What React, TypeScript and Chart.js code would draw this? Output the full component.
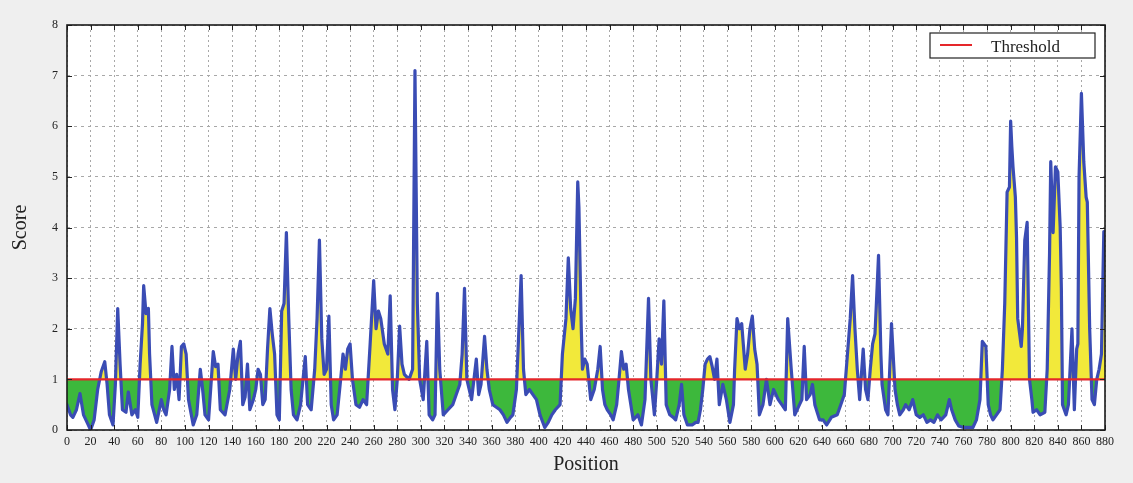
import React, { useEffect, useRef } from 'react';
import { Chart, registerables } from 'chart.js';

Chart.register(...registerables);

// Position along the sequence (x) and score (y)
const positions = [
  0, 3, 5, 8, 11, 14, 17, 20, 23, 26, 29, 32, 34, 36, 39, 41, 43, 45, 47, 50,
  52, 55, 58, 60, 62, 64, 65, 67, 69, 70, 72, 76, 80, 82, 84, 87, 89, 91, 93, 95,
  97, 99, 101, 103, 107, 110, 113, 115, 117, 120, 124, 126, 128, 130, 134, 138, 141, 143, 145, 147,
  149, 151, 153, 155, 158, 160, 162, 164, 166, 168, 170, 172, 174, 176, 178, 180, 182, 184, 186, 188,
  190, 192, 195, 198, 202, 204, 207, 210, 212, 214, 216, 218, 220, 222, 224, 226, 229, 232, 234, 236,
  238, 240, 242, 245, 248, 251, 254, 257, 260, 262, 264, 266, 269, 272, 274, 276, 278, 280, 282, 284,
  286, 290, 293, 295, 297, 299, 302, 305, 307, 310, 312, 314, 316, 319, 323, 327, 330, 333, 335, 337,
  339, 343, 347, 349, 351, 354, 356, 358, 361, 364, 367, 370, 373, 376, 378, 381, 385, 387, 389, 392,
  395, 398, 401, 405, 408, 411, 414, 418, 420, 423, 425, 427, 429, 431, 433, 434, 436, 437, 439, 441,
  444, 447, 450, 452, 454, 456, 458, 461, 463, 466, 468, 470, 472, 474, 476, 480, 484, 487, 490, 493,
  495, 498, 500, 502, 504, 506, 508, 511, 514, 516, 519, 521, 523, 526, 530, 533, 535, 537, 539, 541,
  543, 545, 547, 549, 551, 553, 556, 559, 562, 565, 566, 568, 570, 572, 575, 577, 579, 581, 583, 585,
  587, 590, 593, 596, 599, 603, 606, 609, 611, 614, 617, 621, 623, 625, 627, 630, 632, 634, 638, 641,
  644, 648, 653, 656, 659, 662, 664, 666, 668, 670, 672, 675, 677, 679, 681, 683, 685, 686, 688, 690,
  691, 694, 696, 699, 702, 704, 706, 709, 711, 714, 717, 720, 723, 726, 729, 732, 735, 738, 741, 745,
  748, 750, 753, 756, 760, 764, 768, 771, 774, 776, 779, 781, 783, 785, 788, 791, 793, 795, 797, 799,
  800, 801, 802, 804, 805, 806, 809, 810, 812, 814, 816, 818, 819, 822, 825, 829, 831, 833, 834, 836,
  838, 840, 842, 843, 844, 847, 849, 852, 854, 856, 857, 858, 860, 862, 864, 865, 867, 869, 871, 873,
  875, 877, 879, 880,
];

const scores = [
  0.5, 0.3, 0.25, 0.4, 0.72, 0.3, 0.15, 0.0, 0.2, 0.8, 1.15, 1.35, 0.9, 0.3, 0.1, 0.9, 2.4, 1.3, 0.4, 0.35,
  0.75, 0.3, 0.4, 0.25, 1.3, 2.1, 2.85, 2.3, 2.4, 1.5, 0.5, 0.15, 0.6, 0.4, 0.3, 0.8, 1.65, 0.8, 1.1, 0.6,
  1.65, 1.7, 1.5, 0.6, 0.1, 0.3, 1.2, 0.8, 0.3, 0.2, 1.55, 1.25, 1.3, 0.4, 0.3, 0.8, 1.6, 1.0, 1.5, 1.75,
  0.5, 0.65, 1.3, 0.4, 0.6, 0.8, 1.2, 1.1, 0.5, 0.6, 1.6, 2.4, 1.9, 1.5, 0.3, 0.2, 2.35, 2.5, 3.9, 2.2,
  0.8, 0.3, 0.2, 0.5, 1.45, 0.5, 0.4, 1.2, 2.2, 3.75, 1.8, 1.1, 1.2, 2.25, 0.5, 0.2, 0.3, 1.0, 1.5, 1.2,
  1.6, 1.7, 1.0, 0.5, 0.45, 0.6, 0.5, 1.7, 2.95, 2.0, 2.35, 2.2, 1.7, 1.5, 2.65, 0.8, 0.4, 1.0, 2.05, 1.3,
  1.1, 1.0, 1.2, 7.1, 2.5, 1.0, 0.6, 1.75, 0.3, 0.2, 0.3, 2.7, 1.2, 0.3, 0.4, 0.5, 0.7, 0.9, 1.5, 2.8,
  1.0, 0.6, 1.4, 0.7, 0.9, 1.85, 1.2, 0.8, 0.5, 0.45, 0.4, 0.3, 0.15, 0.25, 0.3, 0.8, 3.05, 1.2, 0.7, 0.8,
  0.7, 0.6, 0.3, 0.05, 0.15, 0.3, 0.4, 0.5, 1.5, 2.2, 3.4, 2.4, 2.0, 2.6, 4.9, 4.4, 2.0, 1.2, 1.4, 1.3,
  0.6, 0.8, 1.2, 1.65, 0.8, 0.5, 0.4, 0.3, 0.2, 0.5, 1.0, 1.55, 1.2, 1.3, 0.8, 0.2, 0.3, 0.1, 0.6, 2.6,
  1.0, 0.3, 1.0, 1.8, 1.3, 2.55, 0.5, 0.3, 0.25, 0.2, 0.5, 0.9, 0.3, 0.1, 0.1, 0.15, 0.15, 0.4, 0.8, 1.3,
  1.4, 1.45, 1.25, 1.0, 1.4, 0.5, 0.9, 0.6, 0.15, 0.5, 1.2, 2.2, 2.0, 2.1, 1.2, 1.5, 2.0, 2.25, 1.6, 1.3,
  0.3, 0.5, 1.0, 0.5, 0.8, 0.6, 0.5, 0.4, 2.2, 1.2, 0.3, 0.5, 0.6, 1.65, 0.6, 0.7, 0.9, 0.5, 0.2, 0.2,
  0.1, 0.25, 0.3, 0.5, 0.7, 1.6, 2.2, 3.05, 2.0, 1.2, 0.6, 1.6, 0.8, 0.6, 1.2, 1.7, 1.9, 2.4, 3.45, 1.5,
  0.9, 0.4, 0.3, 2.1, 0.8, 0.5, 0.3, 0.4, 0.5, 0.4, 0.6, 0.3, 0.25, 0.3, 0.15, 0.2, 0.15, 0.3, 0.2, 0.3,
  0.6, 0.4, 0.2, 0.08, 0.05, 0.05, 0.05, 0.2, 0.6, 1.75, 1.65, 0.5, 0.3, 0.2, 0.3, 0.4, 1.2, 2.5, 4.7, 4.8,
  6.1, 5.6, 5.2, 4.6, 3.8, 2.2, 1.65, 2.0, 3.75, 4.1, 1.0, 0.6, 0.35, 0.4, 0.3, 0.35, 1.2, 3.5, 5.3, 3.9,
  5.2, 5.1, 4.0, 2.8, 0.5, 0.3, 0.5, 2.0, 0.4, 1.6, 1.7, 5.0, 6.65, 5.3, 4.6, 4.5, 2.0, 0.6, 0.5, 1.0,
  1.2, 1.5, 3.92, 3.9,
];

const thresholdValue = 1;
const xRange = [0, 880];
const xStep = 20;
const yRange = [0, 8];
const yStep = 1;
const legendLabel = 'Threshold';

const FONT = "'Liberation Serif', 'DejaVu Serif', serif";

const framePlugin = {
  id: 'frame',
  beforeDraw(chart: any) {
    const { ctx, chartArea: a } = chart;
    ctx.save();
    ctx.fillStyle = '#ffffff';
    ctx.fillRect(a.left, a.top, a.right - a.left, a.bottom - a.top);
    ctx.restore();
  },
  afterDraw(chart: any) {
    const { ctx, chartArea: a, scales } = chart;
    ctx.save();
    ctx.strokeStyle = '#222';
    ctx.lineWidth = 1;
    const xs = scales.x;
    const ys = scales.y;
    ctx.beginPath();
    xs.ticks.forEach((t: any) => {
      const px = Math.round(xs.getPixelForValue(t.value)) + 0.5;
      ctx.moveTo(px, a.bottom);
      ctx.lineTo(px, a.bottom - 5);
      ctx.moveTo(px, a.top);
      ctx.lineTo(px, a.top + 5);
    });
    ys.ticks.forEach((t: any) => {
      const py = Math.round(ys.getPixelForValue(t.value)) + 0.5;
      ctx.moveTo(a.left, py);
      ctx.lineTo(a.left + 5, py);
      ctx.moveTo(a.right, py);
      ctx.lineTo(a.right - 5, py);
    });
    ctx.stroke();
    ctx.lineWidth = 1.6;
    ctx.strokeStyle = '#1a1a1a';
    ctx.strokeRect(a.left, a.top, a.right - a.left, a.bottom - a.top);

    // legend box
    const bx = 930, by = 33, bw = 165, bh = 25;
    ctx.fillStyle = '#ffffff';
    ctx.fillRect(bx, by, bw, bh);
    ctx.lineWidth = 1.2;
    ctx.strokeStyle = '#222';
    ctx.strokeRect(bx, by, bw, bh);
    ctx.strokeStyle = '#e5262a';
    ctx.lineWidth = 2;
    ctx.beginPath();
    ctx.moveTo(940, by + 12);
    ctx.lineTo(972, by + 12);
    ctx.stroke();
    ctx.fillStyle = '#222';
    ctx.font = `17px ${FONT}`;
    ctx.textBaseline = 'alphabetic';
    ctx.textAlign = 'left';
    ctx.fillText(legendLabel, 991, by + 19);
    ctx.restore();
  },
};

export default function App() {
  const ref = useRef<HTMLCanvasElement | null>(null);

  useEffect(() => {
    document.body.style.margin = '0';
    document.body.style.background = '#efefef';
    const canvas = ref.current;
    if (!canvas) return;
    const lineData = positions.map((x, i) => ({ x, y: scores[i] }));
    const thresholdData = [
      { x: xRange[0], y: thresholdValue },
      { x: xRange[1], y: thresholdValue },
    ];
    const chart = new Chart(canvas, {
      type: 'line',
      data: {
        datasets: [
          {
            label: legendLabel,
            data: thresholdData,
            borderColor: '#e5262a',
            borderWidth: 2.2,
            pointRadius: 0,
            fill: false,
            order: 0,
          },
          {
            label: 'Score',
            data: lineData,
            borderColor: '#3a4cb4',
            borderWidth: 3.2,
            borderJoinStyle: 'round',
            borderCapStyle: 'round',
            pointRadius: 0,
            tension: 0,
            fill: {
              target: { value: thresholdValue },
              above: '#f2e93a',
              below: '#3db83c',
            },
            order: 1,
          },
        ],
      },
      options: {
        animation: false,
        responsive: true,
        maintainAspectRatio: false,
        layout: { padding: { top: 25, right: 28, left: 0, bottom: 0 } },
        plugins: {
          legend: { display: false },
          tooltip: { enabled: false },
        },
        scales: {
          x: {
            type: 'linear',
            min: xRange[0],
            max: xRange[1],
            afterFit: (s: any) => {
              s.height = 53;
            },
            ticks: {
              stepSize: xStep,
              autoSkip: false,
              maxRotation: 0,
              padding: 5,
              color: '#222',
              font: { family: FONT, size: 12 },
            },
            grid: {
              color: '#a8a8a8',
              lineWidth: 1,
              drawTicks: false,
            },
            border: { display: false, dash: [2, 3] },
            title: {
              display: true,
              text: 'Position',
              color: '#222',
              font: { family: FONT, size: 20 },
              padding: { top: 0, bottom: 6 },
            },
          },
          y: {
            type: 'linear',
            min: yRange[0],
            max: yRange[1],
            afterFit: (s: any) => {
              s.width = 67;
            },
            ticks: {
              stepSize: yStep,
              padding: 9,
              color: '#222',
              font: { family: FONT, size: 12 },
            },
            grid: {
              color: '#a8a8a8',
              lineWidth: 1,
              drawTicks: false,
            },
            border: { display: false, dash: [3, 4] },
            title: {
              display: true,
              text: 'Score',
              color: '#222',
              font: { family: FONT, size: 20 },
              padding: { top: 9, bottom: 0 },
            },
          },
        },
      },
      plugins: [framePlugin],
    });
    return () => chart.destroy();
  }, []);

  return (
    <div style={{ width: 1133, height: 483, position: 'relative', background: '#efefef' }}>
      <canvas ref={ref} />
    </div>
  );
}
